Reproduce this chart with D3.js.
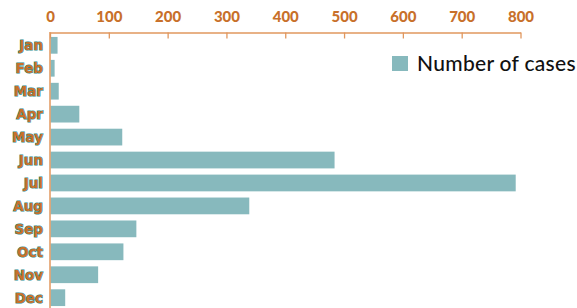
<!DOCTYPE html>
<html><head><meta charset="utf-8">
<script src="https://cdn.jsdelivr.net/npm/d3@7"></script>
<style>body{margin:0;background:#fff}</style>
</head><body>
<svg id="c" width="577" height="308"></svg>
<script>
const months = ["Jan","Feb","Mar","Apr","May","Jun","Jul","Aug","Sep","Oct","Nov","Dec"];
const cases = [12, 7, 14, 49, 122, 483, 791, 338, 146, 124, 81, 25];
const xTicks = [0,100,200,300,400,500,600,700,800];
const seriesName = "Number of cases";

const svg = d3.select("#c");
const orange = "#c8702a", axisCol = "#e0975e", teal = "#87b9bd", labelStroke = "#1f8a8c";
const x = d3.scaleLinear().domain([0,800]).range([50,520.5]);
const y = d3.scaleBand().domain(months).range([33.5, 309.5]).paddingInner(0.27).paddingOuter(0.15);

svg.selectAll("rect.bar").data(months).enter().append("rect")
  .attr("class","bar")
  .attr("x", x(0)+0.5)
  .attr("y", d=>y(d))
  .attr("width", (d,i)=>x(cases[i])-x(0))
  .attr("height", y.bandwidth())
  .attr("fill", teal);

const ax = svg.append("g").attr("transform","translate(0,32.5)")
  .call(d3.axisTop(x).tickValues(xTicks).tickSize(-6).tickPadding(10).tickSizeOuter(0));
ax.select(".domain").attr("stroke", axisCol).attr("stroke-width",1.5);
ax.selectAll(".tick line").attr("stroke", axisCol).attr("stroke-width",1.3);
ax.selectAll(".tick text").attr("fill", orange).attr("font-family","Lato").attr("font-weight","900").attr("font-size","15px").attr("y",-10.5);
ax.selectAll(".tick text").attr("dy","0");

svg.append("line").attr("x1",x(0)).attr("x2",x(0)).attr("y1",32).attr("y2",308)
  .attr("stroke", axisCol).attr("stroke-width",1.5);

svg.selectAll("text.m").data(months).enter().append("text")
  .attr("class","m")
  .attr("x", 43)
  .attr("y", d=>y(d)+y.bandwidth()/2)
  .attr("dy","0.36em")
  .attr("text-anchor","end")
  .attr("font-family","DejaVu Sans").attr("font-weight","bold").attr("font-size","13.5px")
  .attr("fill", orange).attr("stroke", labelStroke).attr("stroke-width",1.1)
  .attr("paint-order","stroke")
  .text(d=>d);

const lg = svg.append("g");
lg.append("rect").attr("x",392).attr("y",56).attr("width",16).attr("height",15).attr("fill",teal);
lg.append("text").attr("x",417).attr("y",71).attr("font-family","Lato").attr("font-weight","500")
  .attr("font-size","21px").attr("letter-spacing","0.3px").attr("fill","#111").text(seriesName);
</script>
</body></html>
